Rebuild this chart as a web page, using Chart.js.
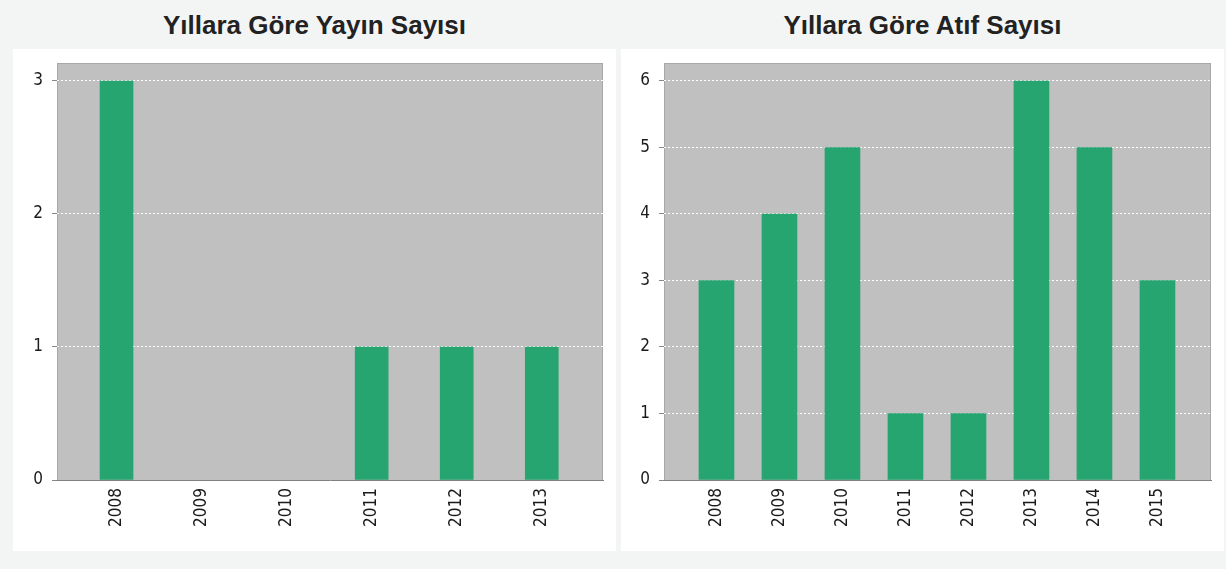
<!DOCTYPE html>
<html lang="tr">
<head>
    <meta charset="UTF-8">
    <title>Yıllara Göre Yayın ve Atıf Sayısı</title>
    <script src="https://cdn.jsdelivr.net/npm/chart.js"></script>
    <style>
        body { margin: 0; background: #f3f5f5; width: 1226px; height: 569px; position: relative; overflow: hidden; }
        .title { position: absolute; top: 10px; width: 603px; text-align: center; font: bold 26px "Liberation Sans", Arial, sans-serif; color: #222; }
        .panel { position: absolute; top: 49px; width: 603px; height: 502px; background: #fff; }
    </style>
</head>
<body>
    <div class="title" style="left:13px">Yıllara Göre Yayın Sayısı</div>
    <div class="title" style="left:621px">Yıllara Göre Atıf Sayısı</div>
    <div class="panel" style="left:13px"><canvas id="yayinChart" width="603" height="502"></canvas></div>
    <div class="panel" style="left:621px"><canvas id="atifChart" width="602" height="502"></canvas></div>

    <script>
        // veriler
        const yayinYillar = [2008, 2009, 2010, 2011, 2012, 2013];
        const yayinSayisi = [3, 0, 0, 1, 1, 1];
        const yayinYTicks = [0, 1, 2, 3];

        const atifYillar = [2008, 2009, 2010, 2011, 2012, 2013, 2014, 2015];
        const atifSayisi = [3, 4, 5, 1, 1, 6, 5, 3];
        const atifYTicks = [0, 1, 2, 3, 4, 5, 6];

        const tickFont = { family: '"DejaVu Sans Condensed", "DejaVu Sans", sans-serif', size: 17 };

        // gri çizim alanı
        const plotBg = {
            id: 'plotBg',
            beforeDraw(chart) {
                const { ctx, chartArea: a } = chart;
                ctx.save();
                ctx.fillStyle = '#c0c0c0';
                ctx.fillRect(a.left, a.top, a.right - a.left, a.bottom - a.top);
                ctx.strokeStyle = '#a8a8a8';
                ctx.lineWidth = 1;
                ctx.strokeRect(a.left + 0.5, a.top + 0.5, a.right - a.left - 1, a.bottom - a.top);
                ctx.restore();
            }
        };

        function makeChart(id, years, values, yTicks, opt) {
            const ctx = document.getElementById(id).getContext('2d');
            return new Chart(ctx, {
                type: 'bar',
                data: {
                    datasets: [{
                        data: years.map((y, i) => ({ x: y, y: values[i] })),
                        // sıfır değerli çubuklar görünmesin
                        backgroundColor: values.map(v => v ? '#26a570' : 'rgba(0,0,0,0)'),
                        barThickness: opt.bar
                    }]
                },
                plugins: [plotBg],
                options: {
                    responsive: false,
                    animation: false,
                    layout: { padding: { top: 14, right: opt.right, left: 0, bottom: 0 } },
                    plugins: { legend: { display: false }, tooltip: { enabled: false } },
                    scales: {
                        x: {
                            type: 'linear',
                            offset: false,
                            min: opt.xMin,
                            max: opt.xMax,
                            afterBuildTicks: s => { s.ticks = years.map(v => ({ value: v })); },
                            afterFit: s => { s.height = 71; s.paddingLeft = 0; s.paddingRight = 0; },
                            grid: { display: false, drawTicks: false },
                            border: { color: '#808080', width: 1 },
                            ticks: {
                                autoSkip: false,
                                minRotation: 90,
                                maxRotation: 90,
                                padding: 8,
                                color: '#1a1a1a',
                                font: tickFont,
                                callback: v => String(v)
                            }
                        },
                        y: {
                            min: 0,
                            max: opt.yMax,
                            afterBuildTicks: s => { s.ticks = yTicks.map(v => ({ value: v })); },
                            afterFit: s => { s.width = opt.left; s.paddingTop = 0; s.paddingBottom = 0; },
                            grid: {
                                color: '#ffffff',
                                tickColor: '#888',
                                tickBorderDash: [],
                                tickLength: 5
                            },
                            border: { display: false, dash: [2, 2] },
                            ticks: { padding: 9, color: '#1a1a1a', font: tickFont }
                        }
                    }
                }
            });
        }

        makeChart('yayinChart', yayinYillar, yayinSayisi, yayinYTicks,
            { xMin: 2007.3, xMax: 2013.72, yMax: 3.135, bar: 33, left: 44, right: 13 });
        makeChart('atifChart', atifYillar, atifSayisi, atifYTicks,
            { xMin: 2007.167, xMax: 2015.85, yMax: 6.27, bar: 35, left: 43, right: 12 });
    </script>
</body>
</html>
